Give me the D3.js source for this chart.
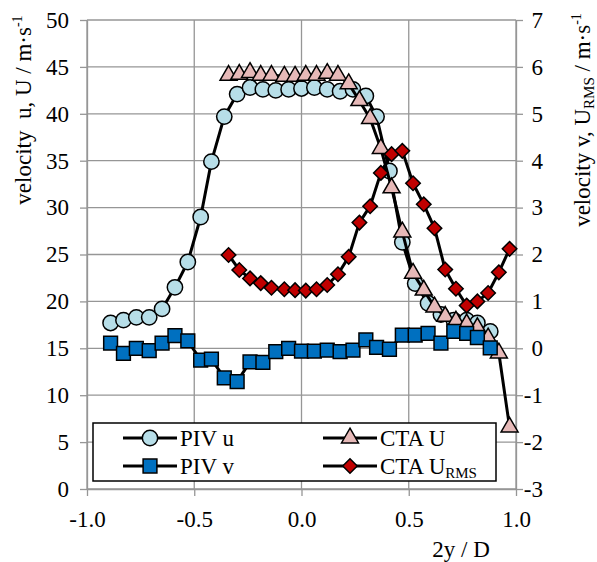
<!DOCTYPE html>
<html>
<head>
<meta charset="utf-8">
<script src="https://cdn.jsdelivr.net/npm/d3@7"></script>
<style>
body{margin:0;background:#fff;}
</style>
</head>
<body>
<div id="chart"></div>
<script>
// PIV grid (2y/D)
const pivX = [-0.89,-0.83,-0.77,-0.71,-0.65,-0.59,-0.53,-0.47,-0.42,-0.36,-0.30,-0.24,-0.18,-0.12,-0.06,0.00,
              0.06,0.12,0.18,0.24,0.30,0.35,0.41,0.47,0.53,0.59,0.65,0.71,0.77,0.82,0.88];
const pivU = [17.7,18.0,18.3,18.3,19.2,21.5,24.2,29.0,34.9,39.7,42.1,42.8,42.6,42.5,42.6,42.7,
              42.8,42.6,42.4,42.6,41.9,39.7,33.9,26.3,21.9,19.8,18.6,18.0,18.0,17.7,16.8];
const pivV = [0.11,-0.11,0.00,-0.05,0.11,0.27,0.16,-0.25,-0.23,-0.63,-0.71,-0.29,-0.30,-0.07,0.00,-0.06,
              -0.06,-0.04,-0.07,-0.04,0.18,0.02,-0.02,0.28,0.28,0.32,0.11,0.36,0.32,0.23,0.01];

// CTA grid
const ctaX = [-0.34,-0.29,-0.24,-0.19,-0.14,-0.08,-0.03,0.02,0.07,0.12,0.17,0.22,0.27,0.32,0.37,0.42,
              0.47,0.52,0.57,0.62,0.67,0.72,0.77,0.82,0.87,0.92,0.97];
const ctaU = [44.1,44.2,44.4,44.1,44.1,44.0,44.0,44.1,44.1,44.3,44.1,43.2,41.4,39.5,36.3,32.1,
              27.4,23.0,21.2,19.4,18.4,17.9,17.6,17.2,16.1,14.5,6.6];
const ctaRms = [1.99,1.67,1.49,1.39,1.29,1.26,1.24,1.23,1.26,1.35,1.58,1.95,2.68,3.03,3.74,4.14,
                4.21,3.52,3.07,2.56,1.68,1.27,0.91,1.00,1.18,1.62,2.12];

const xTicks = [-1.0,-0.5,0.0,0.5,1.0];
const leftTicks = [0,5,10,15,20,25,30,35,40,45,50];
const rightTicks = [-3,-2,-1,0,1,2,3,4,5,6,7];

const FONT = "Liberation Serif";

let margin = {top: 20, right: 81, bottom: 73, left: 87},
    width = 597 - margin.left - margin.right,
    height = 562 - margin.top - margin.bottom;

let x = d3.scaleLinear().domain([-1,1]).range([0,width]);
let yL = d3.scaleLinear().domain([0,50]).range([height,0]);
let yR = d3.scaleLinear().domain([-3,7]).range([height,0]);

let svg = d3.select("#chart").append("svg")
    .attr("width",597).attr("height",562)
    .attr("font-family",FONT);
let g = svg.append("g").attr("transform","translate("+margin.left+","+margin.top+")");

const gridColor = "#969696";

// gridlines
g.selectAll(".hgrid").data(leftTicks).enter().append("line")
    .attr("x1",0).attr("x2",width)
    .attr("y1",d => yL(d)).attr("y2",d => yL(d))
    .attr("stroke",gridColor).attr("stroke-width",1.3);
g.selectAll(".vgrid").data(xTicks).enter().append("line")
    .attr("x1",d => x(d)).attr("x2",d => x(d))
    .attr("y1",0).attr("y2",height)
    .attr("stroke",gridColor).attr("stroke-width",1.3);

// axes
function styleAxis(sel){
  sel.attr("font-family",FONT).attr("font-size",23);
  sel.selectAll("path,line").attr("stroke",gridColor).attr("stroke-width",1.3);
  sel.selectAll("text").attr("font-family",FONT).attr("font-size",23).attr("fill","#000");
}
let axL = g.append("g")
    .call(d3.axisLeft(yL).tickValues(leftTicks).tickSize(7).tickSizeOuter(0).tickPadding(11).tickFormat(d3.format("d")));
styleAxis(axL);
let axR = g.append("g").attr("transform","translate("+width+",0)")
    .call(d3.axisRight(yR).tickValues(rightTicks).tickSize(7).tickSizeOuter(0).tickPadding(20).tickFormat(d3.format("d")));
styleAxis(axR);
axR.selectAll("text").attr("text-anchor","end").attr("x",27);
let axB = g.append("g").attr("transform","translate(0,"+height+")")
    .call(d3.axisBottom(x).tickValues(xTicks).tickSize(7).tickSizeOuter(0).tickPadding(15).tickFormat(d3.format(".1f")));
styleAxis(axB);
axB.selectAll("text").text(d => d3.format(".1f")(d).replace("−","-"));
axL.selectAll("text").text(d => String(d));
axR.selectAll("text").text(d => String(d));

// series
let series = [
  {name:"PIV u", xs:pivX, ys:pivU, y:yL, sym:d3.symbolCircle, size:185, fill:"#b7dee8", rot:0},
  {name:"CTA U", xs:ctaX, ys:ctaU, y:yL, sym:d3.symbolTriangle, size:125, fill:"#e6b9b8", rot:0},
  {name:"PIV v", xs:pivX, ys:pivV, y:yR, sym:d3.symbolSquare, size:190, fill:"#0070c0", rot:0},
  {name:"CTA U_RMS", xs:ctaX, ys:ctaRms, y:yR, sym:d3.symbolSquare, size:105, fill:"#c00000", rot:45}
];

series.forEach(s => {
  let pts = s.xs.map((d,i) => [x(d), s.y(s.ys[i])]);
  g.append("path").attr("d", d3.line()(pts))
    .attr("fill","none").attr("stroke","#000").attr("stroke-width",3).attr("stroke-linejoin","round");
  g.selectAll(null).data(pts).enter().append("path")
    .attr("d", d3.symbol().type(s.sym).size(s.size))
    .attr("transform", d => "translate("+d[0]+","+d[1]+") rotate("+s.rot+")")
    .attr("fill", s.fill).attr("stroke","#000").attr("stroke-width",1.5);
});

// legend
let lg = svg.append("g");
lg.append("rect").attr("x",93).attr("y",423).attr("width",403).attr("height",58)
  .attr("fill","#fff").attr("stroke","#000").attr("stroke-width",1.5);
let legendPos = [[123,438],[323,438],[123,466],[323,466]];
series.forEach((s,i) => {
  let p = legendPos[i];
  lg.append("line").attr("x1",p[0]).attr("x2",p[0]+54).attr("y1",p[1]).attr("y2",p[1])
    .attr("stroke","#000").attr("stroke-width",3);
  lg.append("path").attr("d", d3.symbol().type(s.sym).size(s.size))
    .attr("transform","translate("+(p[0]+27)+","+p[1]+") rotate("+s.rot+")")
    .attr("fill",s.fill).attr("stroke","#000").attr("stroke-width",1.5);
  let t = lg.append("text").attr("x",p[0]+57).attr("y",p[1]).attr("dy","0.35em")
    .attr("font-family",FONT).attr("font-size",23);
  if(s.name == "CTA U_RMS"){
    t.append("tspan").text("CTA U");
    t.append("tspan").text("RMS").attr("font-size",15).attr("dy",4);
  } else t.text(s.name);
});

// axis titles
let lt = svg.append("text").attr("transform","translate(23,110) rotate(-90)")
  .attr("text-anchor","middle").attr("dy","0.35em").attr("font-family",FONT).attr("font-size",23)
  .attr("xml:space","preserve");
lt.append("tspan").text("velocity  u, U / m·s");
lt.append("tspan").text("-1").attr("font-size",14).attr("dy",-9);

let rt = svg.append("text").attr("transform","translate(582,120) rotate(-90)")
  .attr("text-anchor","middle").attr("dy","0.35em").attr("font-family",FONT).attr("font-size",23)
  .attr("xml:space","preserve");
rt.append("tspan").text("velocity v, U");
rt.append("tspan").text("RMS").attr("font-size",15).attr("dy",4);
rt.append("tspan").text(" / m·s").attr("dy",-4);
rt.append("tspan").text("-1").attr("font-size",14).attr("dy",-9);

svg.append("text").attr("x",461).attr("y",557).attr("text-anchor","middle")
  .attr("font-family",FONT).attr("font-size",23).text("2y / D");
</script>
</body>
</html>
